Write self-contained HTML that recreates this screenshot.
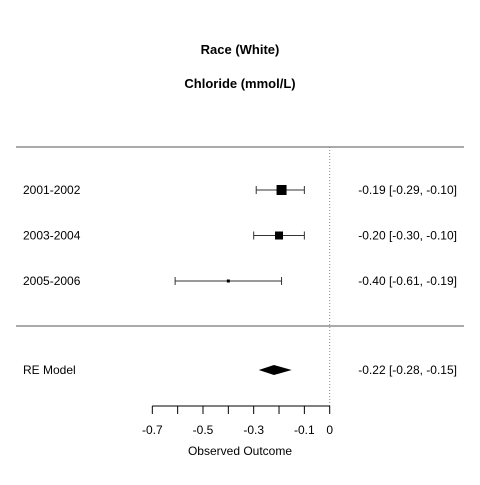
<!DOCTYPE html>
<html><head><meta charset="utf-8"><style>body{margin:0;background:#fff}svg text{font-family:"Liberation Sans",Arial,sans-serif;fill:#000}</style></head>
<body>
<svg width="480" height="480" xmlns="http://www.w3.org/2000/svg">
<text x="240" y="54" font-size="13" font-weight="bold" text-anchor="middle">Race (White)</text>
<text x="240" y="88" font-size="13" font-weight="bold" text-anchor="middle">Chloride (mmol/L)</text>
<line x1="16" y1="147" x2="464" y2="147" stroke="#555"/>
<line x1="16" y1="326" x2="464" y2="326" stroke="#555"/>
<g id="plot"></g>
<text x="240" y="455" font-size="12" text-anchor="middle">Observed Outcome</text>
</svg>
<script>
const studies=["2001-2002","2003-2004","2005-2006"];
const est=[-0.19,-0.20,-0.40];
const lo=[-0.29,-0.30,-0.61];
const hi=[-0.10,-0.10,-0.19];
const weights=[10,8,3];
const reEst=-0.22, reLo=-0.28, reHi=-0.15;
const ticks=[-0.7,-0.6,-0.5,-0.4,-0.3,-0.2,-0.1,0];
const tickLabels=["-0.7","","-0.5","","-0.3","","-0.1","0"];
const x=v=>329.7+v*253.4;
const rowY=i=>190+i*45.5;
const ns="http://www.w3.org/2000/svg",g=document.getElementById('plot');
function mk(t,a){const e=document.createElementNS(ns,t);for(const k in a)e.setAttribute(k,a[k]);g.appendChild(e);return e;}
const f=v=>v.toFixed(2);
const zl=mk('line',{x1:x(0),y1:147,x2:x(0),y2:406,stroke:'#888','stroke-dasharray':'1,2'});


studies.forEach((s,i)=>{const y=rowY(i);
 const l=mk('text',{x:23,y:y+4,'font-size':12});l.textContent=s;
 
 
 const ci=mk('path',{d:`M${x(lo[i])},${y}H${x(hi[i])}M${x(lo[i])},${y-4}V${y+4}M${x(hi[i])},${y-4}V${y+4}`,stroke:'#333',fill:'none'});
 
 
 const w=weights[i];
 const sq=mk('rect',{x:x(est[i])-w/2,y:y-w/2,width:w,height:w,fill:'#000'});
 
 
 const t=mk('text',{x:457,y:y+4,'font-size':12,'text-anchor':'end'});t.textContent=`${f(est[i])} [${f(lo[i])}, ${f(hi[i])}]`;
 
 
});
const ry=370;
const rl=mk('text',{x:23,y:ry+4,'font-size':12});rl.textContent='RE Model';


const d=mk('polygon',{points:`${x(reLo)},${ry} ${x(reEst)},${ry-5} ${x(reHi)},${ry} ${x(reEst)},${ry+5}`,fill:'#000'});


const rt=mk('text',{x:457,y:ry+4,'font-size':12,'text-anchor':'end'});rt.textContent=`${f(reEst)} [${f(reLo)}, ${f(reHi)}]`;


const ax=mk('line',{x1:x(ticks[0]),y1:406,x2:x(ticks[ticks.length-1]),y2:406,stroke:'#000'});


ticks.forEach((v,i)=>{const tk=mk('line',{x1:x(v),y1:406,x2:x(v),y2:414,stroke:'#000'});
 
 
 if(tickLabels[i]){const tl=mk('text',{x:x(v),y:434,'font-size':12,'text-anchor':'middle'});tl.textContent=tickLabels[i];
 
 }
});
</script>
</body></html>
